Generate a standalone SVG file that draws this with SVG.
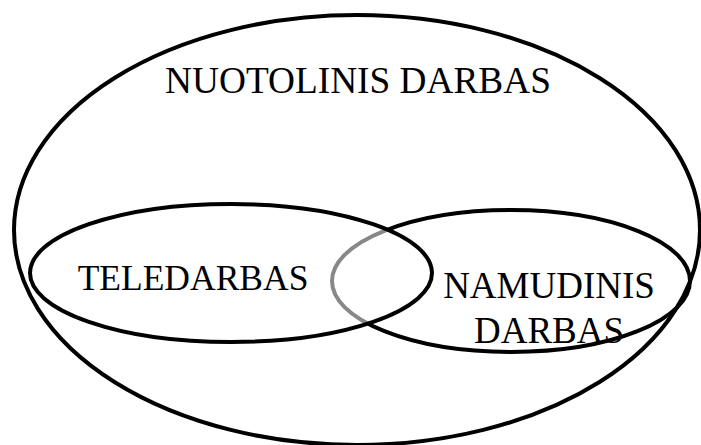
<svg xmlns="http://www.w3.org/2000/svg" width="701" height="445" viewBox="0 0 701 445">
<style>
.e{fill:none;stroke:#000;stroke-width:4}
.g{fill:none;stroke:#888;stroke-width:4}
.t{font-family:"Liberation Serif","Times New Roman",serif;font-size:37px;fill:#000;text-anchor:middle}
</style>
<defs>
<clipPath id="inTele"><ellipse cx="231" cy="273" rx="201" ry="69"/></clipPath>
<clipPath id="outTele"><path clip-rule="evenodd" d="M0 0H701V445H0Z M30 273A201 69 0 1 0 432 273A201 69 0 1 0 30 273Z"/></clipPath>
</defs>
<rect width="701" height="445" fill="#fff"/>
<g id="nuotolinis">
<ellipse class="e" cx="357" cy="230" rx="343" ry="215"/>
<text class="t" x="358" y="93" style="font-size:37.3px">NUOTOLINIS DARBAS</text>
</g>
<g id="namudinis">
<ellipse class="e" cx="511" cy="281" rx="179" ry="71" clip-path="url(#outTele)"/>
<ellipse class="g" cx="511" cy="281" rx="179" ry="71" clip-path="url(#inTele)"/>
<text class="t" x="549" y="298">NAMUDINIS</text>
<text class="t" x="549" y="343">DARBAS</text>
</g>
<g id="teledarbas">
<ellipse class="e" cx="231" cy="273" rx="201" ry="69"/>
<text class="t" x="193" y="290" style="font-size:35.5px">TELEDARBAS</text>
</g>
<g id="connectors"></g>
</svg>
